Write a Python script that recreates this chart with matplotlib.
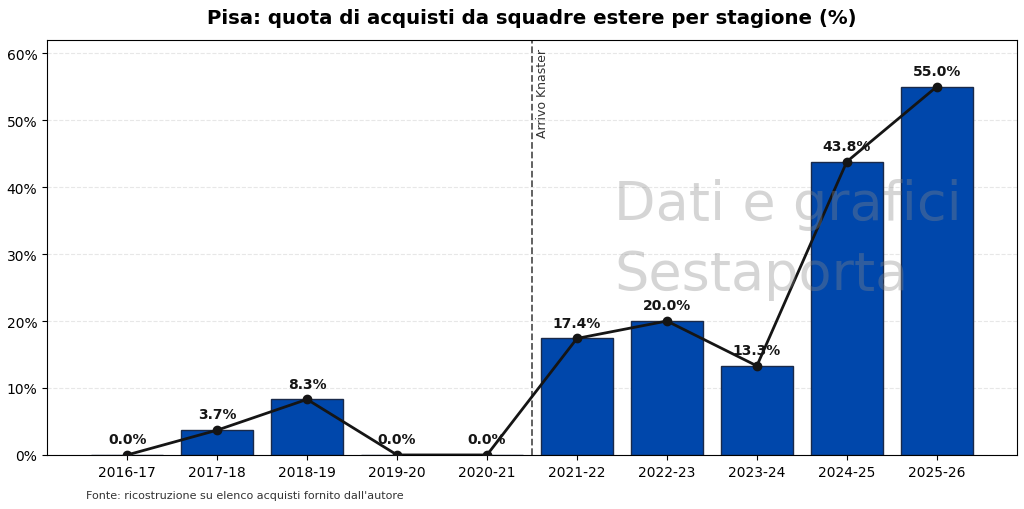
import numpy as np
import matplotlib.pyplot as plt
from matplotlib.ticker import FuncFormatter

stagioni = ['2016-17', '2017-18', '2018-19', '2019-20', '2020-21',
            '2021-22', '2022-23', '2023-24', '2024-25', '2025-26']
quota = [0.0, 3.7, 8.3, 0.0, 0.0, 17.4, 20.0, 13.3, 43.8, 55.0]
evento = 'Arrivo Knaster'
evento_pos = 4.5

fig, ax = plt.subplots(figsize=(10.24, 5.1), dpi=100)
x = np.arange(len(stagioni))

ax.bar(x, quota, width=0.8, color='#0047AB', edgecolor='#1a2a4a', linewidth=1, zorder=2)
ax.plot(x, quota, color='#151515', lw=2, marker='o', markersize=6, zorder=3)

for xi, v in zip(x, quota):
    ax.text(xi, v + 1.3, f'{v:.1f}%', ha='center', va='bottom',
            fontsize=10, fontweight='bold', color='#151515', zorder=4)

ax.axvline(evento_pos, color='#555555', ls='--', lw=1.3, zorder=1)
ax.text(evento_pos + 0.05, 60.8, evento, rotation=90, ha='left', va='top',
        fontsize=9, color='#333333')

ax.text(0.585, 0.52, 'Dati e grafici\nSestaporta', transform=ax.transAxes,
        fontsize=39, color='#888888', alpha=0.35, ha='left', va='center',
        linespacing=1.45, zorder=5)

ax.set_xticks(x)
ax.set_xticklabels(stagioni, fontsize=10)
ax.set_ylim(0, 62)
ax.set_yticks(np.arange(0, 61, 10))
ax.yaxis.set_major_formatter(FuncFormatter(lambda v, p: f'{v:.0f}%'))
ax.tick_params(axis='y', labelsize=10)
ax.grid(axis='y', ls='--', color='#dddddd', alpha=0.7, zorder=0)
ax.set_axisbelow(True)

ax.set_title('Pisa: quota di acquisti da squadre estere per stagione (%)',
             fontsize=14.2, fontweight='bold', pad=12)
fig.text(0.084, 0.022, "Fonte: ricostruzione su elenco acquisti fornito dall'autore",
         fontsize=8, color='#333333')

plt.subplots_adjust(left=0.046, right=0.993, top=0.92, bottom=0.106)
plt.savefig('out.png', dpi=100)
